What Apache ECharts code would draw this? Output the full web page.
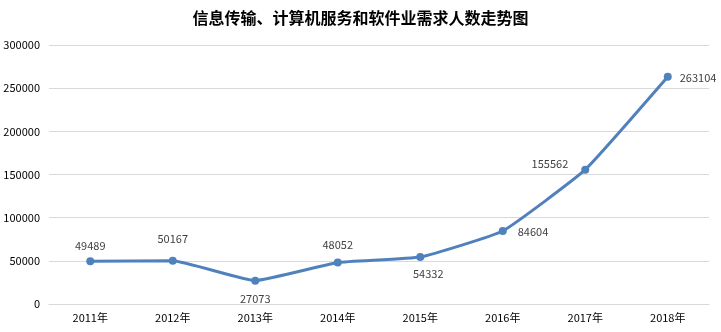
<!DOCTYPE html>
<html><head><meta charset="utf-8">
<script src="https://cdn.jsdelivr.net/npm/echarts@6/dist/echarts.min.js"></script>
<style>html,body{margin:0;padding:0;background:#fff}#c{width:721px;height:332px}</style>
</head><body><div id="c"></div>
<script>
const titleText = '信息传输、计算机服务和软件业需求人数走势图';
const categories = ['2011年','2012年','2013年','2014年','2015年','2016年','2017年','2018年'];
const values = [49489, 50167, 27073, 48052, 54332, 84604, 155562, 263104];
const yTicks = [0, 50000, 100000, 150000, 200000, 250000, 300000];

const labelPlacement = [
  {position:'top', offset:[0,-1]},
  {position:'top', offset:[0,-7]},
  {position:'bottom', offset:[0,4]},
  {position:'top', offset:[0,-3]},
  {position:'bottom', offset:[8,2]},
  {position:'right', offset:[6,1]},
  {position:'left', offset:[-8,-6]},
  {position:'right', offset:[3,1]}
];

const chart = echarts.init(document.getElementById('c'));
chart.setOption({
  animation:false,
  title:{text:titleText,left:'center',top:5,textStyle:{fontFamily:'Noto Sans CJK SC',fontSize:16,fontWeight:'bold',color:'#000'}},
  grid:{left:49,right:12,top:45,bottom:28},
  xAxis:{type:'category',data:categories,boundaryGap:true,
    axisLine:{lineStyle:{color:'#d9d9d9'}},axisTick:{show:false},
    axisLabel:{color:'#000',fontSize:11,fontFamily:'Noto Sans CJK SC',margin:8}},
  yAxis:{type:'value',min:yTicks[0],max:yTicks[yTicks.length-1],interval:50000,
    axisLine:{show:false},axisTick:{show:false},
    splitLine:{lineStyle:{color:'#d9d9d9'}},
    axisLabel:{color:'#000',fontSize:11,fontFamily:'Noto Sans CJK SC',margin:9,formatter:v=>String(v)}},
  series:[{type:'line',smooth:0.12,
    data:values.map((v,i)=>({value:v,label:{position:labelPlacement[i].position,offset:labelPlacement[i].offset}})),
    symbol:'circle',symbolSize:8,
    lineStyle:{color:'#4f81bd',width:3},itemStyle:{color:'#4f81bd'},
    label:{show:true,color:'#404040',fontSize:11,fontFamily:'Noto Sans CJK SC'}}]
});
</script></body></html>
